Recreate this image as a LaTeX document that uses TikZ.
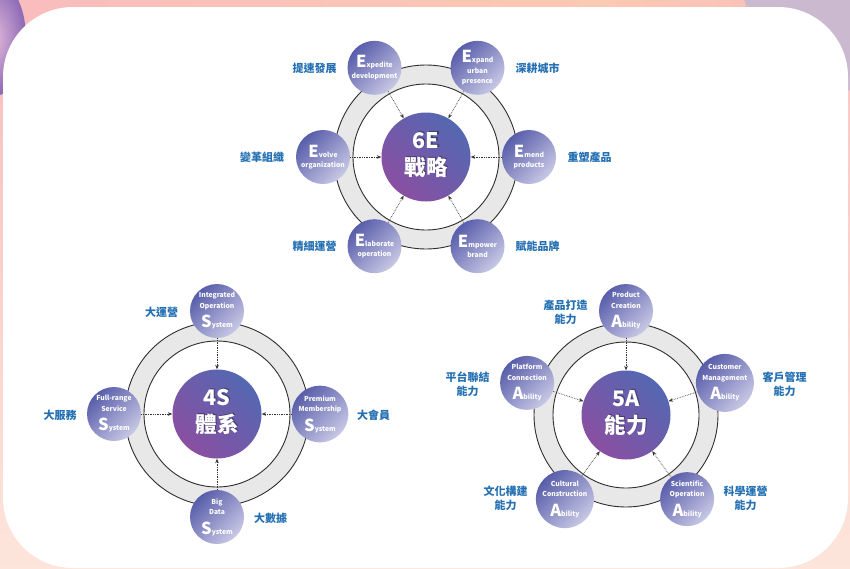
\documentclass[tikz,border=0pt]{standalone}
\usepackage{fontspec}
\setmainfont{Noto Sans CJK TC}
\usetikzlibrary{arrows.meta}
\definecolor{bgpink}{HTML}{F8BCBD}
\definecolor{bgpeach}{HTML}{FBCAB2}
\definecolor{bglow}{HTML}{FDE5DB}
\definecolor{bglav}{HTML}{CBB9D0}
\definecolor{blobout}{HTML}{8B69B6}
\definecolor{blobin}{HTML}{E2B9DA}
\definecolor{ringgray}{HTML}{E8E8E8}
\definecolor{ringline}{HTML}{2E2E2E}
\definecolor{satdark}{HTML}{585DAA}
\definecolor{satlight}{HTML}{C8C8E5}
\definecolor{hubblue}{HTML}{5468B2}
\definecolor{hubpurple}{HTML}{8A4FA2}
\definecolor{lblblue}{HTML}{2470B3}
\definecolor{arrgray}{HTML}{333333}
\newcommand\bigltr[1]{{\fontsize{16.5}{17}\selectfont #1}}
\newcommand\lastltr[1]{\smash{\bigltr{#1}}}
\newcommand\mkring[1]{%
  \fill[ringgray, draw=ringline, line width=0.9pt] (#1) circle[radius=92pt];
  \fill[white, draw=ringline, line width=0.9pt] (#1) circle[radius=73pt];}
\begin{document}
\begin{tikzpicture}[x=1pt,y=-1pt,
  sat/.style={circle, minimum size=54pt, inner sep=0pt, top color=satdark, bottom color=satlight, shading angle=45, text=white, align=center, font=\bfseries\fontsize{6.8}{10.5}\selectfont},
  hub/.style={circle, minimum size=89pt, inner sep=0pt, top color=hubblue, bottom color=hubpurple, shading angle=-45},
  hubtxt/.style={text=white, align=center, font=\bfseries\fontsize{21.5}{27}\selectfont, yshift=2pt},
  hubsh/.style={hubtxt, text=black, opacity=0.35, xshift=1.3pt, yshift=0.7pt},
  lbl/.style={text=lblblue, align=center, font=\bfseries\fontsize{11}{14}\selectfont},
  arr/.style={draw=arrgray, densely dotted, line width=0.7pt, -{Stealth[length=4.5pt,width=3.6pt]}}]
\useasboundingbox (0,0) rectangle (850,568);
% background
\fill[top color=bgpink, bottom color=bglow] (0,0) rectangle (850,568);
\shade[left color=bgpink, right color=bgpeach] (0,0) rectangle (600,30);
\shade[left color=bgpeach, right color=bgpink] (600,0) rectangle (850,30);
\fill[bglav] (870,-40) circle[radius=132pt];
\shade[inner color=blobin, outer color=blobout] (-6,38) ellipse[x radius=32pt, y radius=58pt];
\fill[white, rounded corners=70pt] (3,7) rectangle (848,568);
% rings
\mkring{426,157}
\mkring{217,414}
\mkring{626,415}
% ---- 6E
\node[hub] (h6) at (426,157) {};
\node[hubsh] (h6s) at (h6) {6E\\戰略};
\node[hubtxt] (h6t) at (h6) {6E\\戰略};
\node[sat] (e1) at (374.5,67.8) {\bigltr{E}xpedite\\development};
\node[sat] (e2) at (477.5,67.8) {\bigltr{E}xpand\\urban\\presence};
\node[sat] (e3) at (323,157) {\bigltr{E}volve\\organization};
\node[sat] (e4) at (529,157) {\bigltr{E}mend\\products};
\node[sat] (e5) at (374.5,246.2) {\bigltr{E}laborate\\operation};
\node[sat] (e6) at (477.5,246.2) {\bigltr{E}mpower\\brand};
\foreach \s in {e1,e2,e3,e4,e5,e6} \draw[arr] (\s) -- (h6);
\node[lbl] (le1) at (314.5,68) {提速發展};
\node[lbl] (le2) at (537.5,68) {深耕城市};
\node[lbl] (le3) at (262,157) {變革組織};
\node[lbl] (le4) at (589.5,157) {重塑產品};
\node[lbl] (le5) at (314.5,246) {精細運營};
\node[lbl] (le6) at (537.5,246) {賦能品牌};
% ---- 4S
\node[hub] (h4) at (217,414) {};
\node[hubsh] (h4s) at (h4) {4S\\體系};
\node[hubtxt] (h4t) at (h4) {4S\\體系};
\node[sat] (s1) at (217,311) {Integrated\\Operation\\[9pt]\lastltr{S}ystem};
\node[sat] (s2) at (114,414) {Full-range\\Service\\[9pt]\lastltr{S}ystem};
\node[sat] (s3) at (320,414) {Premium\\Membership\\[9pt]\lastltr{S}ystem};
\node[sat] (s4) at (217,517) {Big\\Data\\[9pt]\lastltr{S}ystem};
\foreach \s in {s1,s2,s3,s4} \draw[arr] (\s) -- (h4);
\node[lbl] (ls1) at (161.5,312) {大運營};
\node[lbl] (ls2) at (60,415) {大服務};
\node[lbl] (ls3) at (373.5,415) {大會員};
\node[lbl] (ls4) at (270.5,518) {大數據};
% ---- 5A
\node[hub] (h5) at (626,415) {};
\node[hubsh] (h5s) at (h5) {5A\\能力};
\node[hubtxt] (h5t) at (h5) {5A\\能力};
\node[sat] (a1) at (626,311) {Product\\Creation\\[9pt]\lastltr{A}bility};
\node[sat] (a2) at (724.9,382.9) {Customer\\Management\\[9pt]\lastltr{A}bility};
\node[sat] (a3) at (527.1,382.9) {Platform\\Connection\\[9pt]\lastltr{A}bility};
\node[sat] (a4) at (687.1,499.1) {Scientific\\Operation\\[9pt]\lastltr{A}bility};
\node[sat] (a5) at (564.9,499.1) {Cultural\\Construction\\[9pt]\lastltr{A}bility};
\foreach \s in {a1,a2,a3,a4,a5} \draw[arr] (\s) -- (h5);
\node[lbl] (la1) at (565.5,312) {產品打造\\能力};
\node[lbl] (la2) at (784.5,384) {客戶管理\\能力};
\node[lbl] (la3) at (467.5,384) {平台聯結\\能力};
\node[lbl] (la4) at (745.5,498) {科學運營\\能力};
\node[lbl] (la5) at (505.5,498) {文化構建\\能力};
\end{tikzpicture}
\end{document}
